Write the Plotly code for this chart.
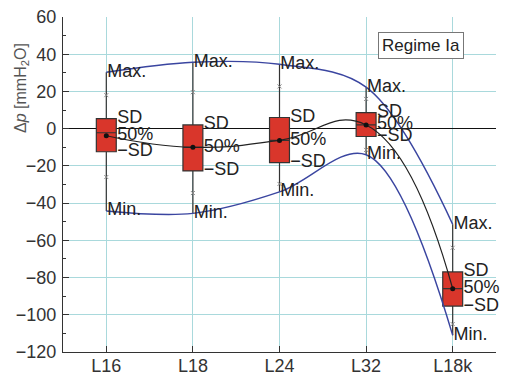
import plotly.graph_objects as go

categories = ["L16", "L18", "L24", "L32", "L18k"]
x_pos = [0, 1, 2, 3, 4]
max_vals = [30.3, 35.7, 34.6, 22.3, -51.4]
min_vals = [-44.2, -45.5, -34.0, -14.0, -111.0]
sd_top = [5.4, 2.0, 6.0, 8.6, -77.0]
sd_bot = [-12.4, -22.7, -18.2, -4.2, -95.3]
median_vals = [-2.2, -10.0, -6.3, 2.0, -86.0]
mean_vals = [-3.8, -10.0, -6.3, 2.0, -86.0]
pct_hi = [18.0, 19.6, 22.7, 16.0, -64.0]
pct_lo = [-26.0, -34.6, -29.7, -11.4, -105.0]
y_ticks = [-120, -100, -80, -60, -40, -20, 0, 20, 40, 60]

FONT = "Liberation Sans, Arial, sans-serif"
BLUE = "#3a45a0"
RED = "#d9362b"
GRID = "#a9d9dc"

fig = go.Figure()

# smooth curves
fig.add_trace(go.Scatter(x=x_pos, y=max_vals, mode="lines",
                         line=dict(color=BLUE, width=1.4, shape="spline", smoothing=1.0),
                         hoverinfo="skip"))
fig.add_trace(go.Scatter(x=x_pos, y=min_vals, mode="lines",
                         line=dict(color=BLUE, width=1.4, shape="spline", smoothing=1.0),
                         hoverinfo="skip"))

# boxes
fig.add_trace(go.Box(x=x_pos, q1=sd_bot, median=median_vals, q3=sd_top,
                     lowerfence=min_vals, upperfence=max_vals,
                     width=0.23, whiskerwidth=0, fillcolor=RED,
                     line=dict(color="#333333", width=1.2),
                     boxpoints=False, hoverinfo="skip"))

fig.add_trace(go.Scatter(x=x_pos, y=mean_vals, mode="lines+markers",
                         line=dict(color="#222222", width=1.2, shape="spline", smoothing=1.3),
                         marker=dict(color="#111111", size=5), hoverinfo="skip"))

# percentile x markers
fig.add_trace(go.Scatter(x=x_pos + x_pos, y=pct_hi + pct_lo, mode="markers",
                         marker=dict(symbol="x-thin", size=4, line=dict(color="#888888", width=1)),
                         hoverinfo="skip"))

# text labels
tf = dict(family=FONT, size=18, color="#222222")
xm = [v + 0.01 for v in x_pos]
xs = [v + 0.125 for v in x_pos]
for xx, yy, lab in [(xm, max_vals, "Max."), (xm, min_vals, "Min."),
                    (xs, sd_top, "SD"), (xs, mean_vals, "50%"),
                    (xs, sd_bot, "\u2212SD")]:
    fig.add_trace(go.Scatter(x=xx, y=yy, mode="text", text=[lab] * 5,
                             textposition="middle right", textfont=tf,
                             cliponaxis=False, hoverinfo="skip"))

fig.update_layout(
    width=508, height=376,
    margin=dict(l=63, r=12, t=17, b=24),
    paper_bgcolor="white", plot_bgcolor="white",
    showlegend=False,
    font=dict(family=FONT, size=18, color="#333333"),
    xaxis=dict(range=[-0.5, 4.5], tickvals=x_pos, ticktext=categories,
               showgrid=True, gridcolor=GRID, gridwidth=1,
               showline=True, linecolor="#333333", linewidth=1.2,
               ticks="inside", ticklen=6, tickcolor="#333333",
               zeroline=False, tickfont=dict(size=18), automargin=False,
               ticklabelstandoff=-3),
    yaxis=dict(range=[-120, 60], tickvals=y_ticks,
               ticktext=[str(v).replace("-", "\u2212") for v in y_ticks],
               showgrid=True, gridcolor=GRID, gridwidth=1,
               showline=True, linecolor="#333333", linewidth=1.2,
               ticks="inside", ticklen=6, tickcolor="#333333",
               minor=dict(dtick=10, tick0=0, ticks="inside", ticklen=3,
                          tickcolor="#333333", showgrid=False),
               zeroline=True, zerolinecolor="#111111", zerolinewidth=1.2,
               tickfont=dict(size=18), ticklabelstandoff=2, automargin=False),
    annotations=[
        dict(text="Regime Ia", xref="paper", yref="paper",
             x=(421 - 63) / 433, y=1 - (45.5 - 17) / 335,
             xanchor="center", yanchor="middle", showarrow=False,
             font=dict(family=FONT, size=17, color="#222222"),
             bordercolor="#777777", borderwidth=1, borderpad=3, bgcolor="white"),
        dict(text="\u0394<i>p</i> [mmH<sub>2</sub>O]", xref="paper", yref="paper",
             x=-(63 - 22) / 433, y=1 - (88 - 17) / 335, textangle=-90,
             xanchor="center", yanchor="middle", showarrow=False,
             font=dict(family=FONT, size=16, color="#555555")),
    ],
)

fig.write_html("out.html")
